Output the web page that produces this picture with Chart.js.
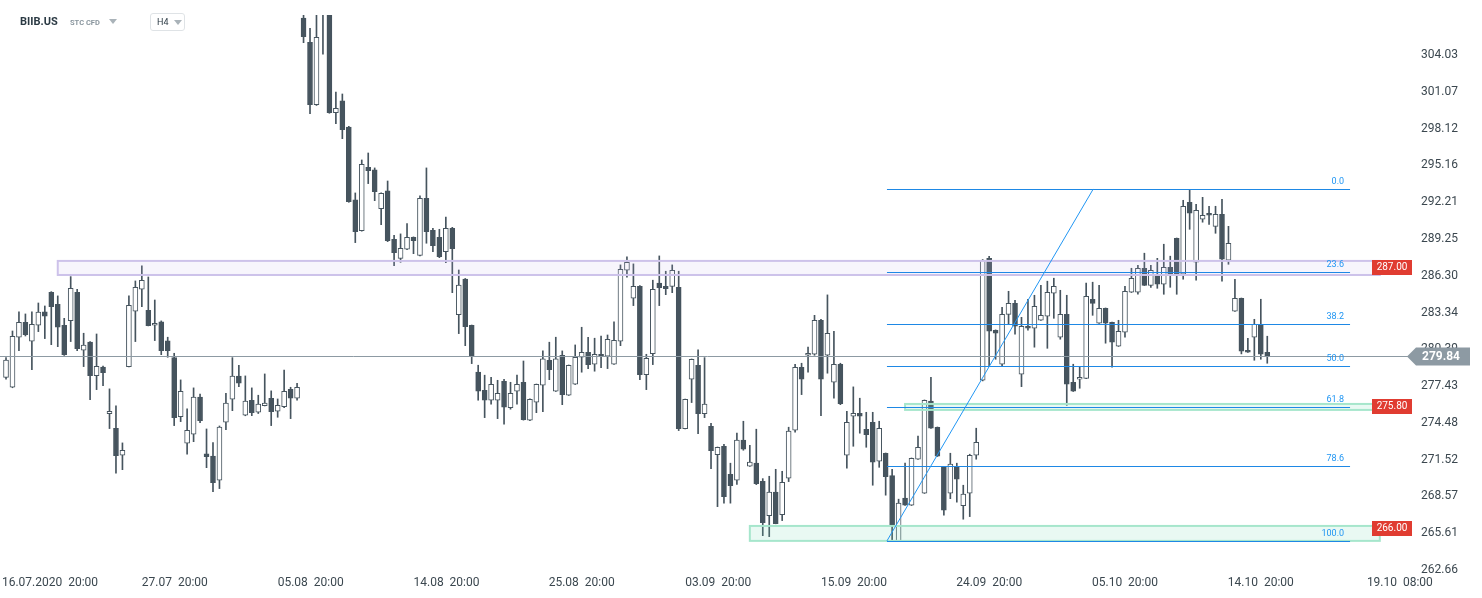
<!DOCTYPE html>
<html><head><meta charset="utf-8">
<script src="https://cdn.jsdelivr.net/npm/chart.js@4.4.1/dist/chart.umd.min.js"></script>
<style>
html,body{margin:0;padding:0;background:#fff;overflow:hidden;}
#wrap{position:relative;width:1482px;height:598px;}
canvas{position:absolute;left:0;top:0;}
.hdr{position:absolute;font-family:Roboto,"Noto Sans",sans-serif;}
</style></head><body>
<div id="wrap">
<canvas id="c" width="1482" height="598"></canvas>
<div class="hdr" style="left:20px;top:15px;font-size:11px;font-weight:bold;color:#2b3a44;">BIIB.US</div>
<div class="hdr" style="left:70px;top:18px;font-size:7.5px;font-weight:bold;color:#8a969e;">STC CFD</div>
<div class="hdr" style="left:109px;top:19px;width:0;height:0;border-left:4px solid transparent;border-right:4px solid transparent;border-top:5px solid #aab3b9;"></div>
<div class="hdr" style="left:150px;top:13px;width:35px;height:18px;border:1px solid #dfe3e6;border-radius:3px;box-sizing:border-box;font-size:9px;color:#2b3a44;line-height:16px;padding-left:6px;">H4<span style="position:absolute;left:23px;top:6px;width:0;height:0;border-left:4px solid transparent;border-right:4px solid transparent;border-top:5px solid #aab3b9;"></span></div>
</div>
<script>
// ---- data (BIIB.US H4) ----
const opens = [
278.14,277.34,281.36,282.56,281.04,282.32,283.39,284.97,284.01,282.32,
282.69,284.97,280.31,280.96,278.27,278.97,275.22,274.05,271.88,279.00,
283.45,285.21,283.53,282.32,282.59,281.06,279.72,274.98,272.84,273.57,
276.56,271.99,271.82,269.87,274.53,276.38,278.23,275.09,276.30,275.33,
275.86,276.46,275.41,275.78,277.18,276.46,307.00,305.05,300.04,308.00,
307.50,299.40,300.34,298.25,292.39,289.92,295.01,294.80,291.69,293.11,
289.23,287.70,288.43,289.39,287.94,292.52,289.95,289.39,288.23,290.11,
283.17,286.04,282.32,278.55,277.10,276.30,276.30,277.82,275.70,277.02,
277.74,274.69,276.14,277.50,279.51,277.02,279.91,276.70,277.58,279.75,
280.15,279.19,279.99,279.83,279.19,281.04,286.74,284.49,285.45,278.35,
280.04,285.70,285.45,285.45,285.37,274.02,277.98,279.11,275.22,274.21,
271.93,272.60,270.35,269.87,273.09,271.00,271.24,269.79,267.03,268.91,
267.11,270.03,273.89,278.95,279.91,279.99,282.72,279.91,277.74,279.19,
271.88,275.01,275.25,273.97,274.53,271.40,272.04,270.24,265.00,268.43,
267.86,271.56,268.83,276.22,274.13,270.92,268.83,270.92,267.83,268.83,
271.88,277.90,287.70,281.92,279.19,283.20,284.08,278.39,282.24,282.08,
282.72,283.05,284.89,281.36,283.20,277.74,277.98,278.06,284.41,282.48,
283.69,282.56,280.64,281.76,284.97,284.97,286.90,285.53,286.42,285.62,
286.98,289.31,286.42,292.20,287.38,290.84,291.32,290.27,291.24,287.54,
283.45,284.49,280.31,281.36,282.40,280.15];
const highs = [
279.72,281.86,283.39,283.23,283.39,284.11,283.87,285.02,284.68,282.88,
286.23,285.21,281.68,281.00,281.62,279.05,277.21,275.84,272.87,284.68,
285.88,287.09,286.20,284.35,282.67,281.36,280.07,277.93,275.60,277.29,
276.80,273.99,272.89,274.23,276.86,279.72,279.11,278.25,277.29,276.70,
278.41,277.05,276.40,278.73,277.34,277.66,307.80,306.18,307.60,308.30,
307.80,301.06,300.90,298.30,292.95,295.60,296.16,294.96,292.95,293.91,
289.55,289.66,290.48,289.42,292.71,294.96,290.11,290.03,291.02,290.19,
286.76,286.08,282.34,279.11,278.31,278.14,277.90,277.98,277.74,278.31,
279.45,276.42,277.60,280.26,280.96,281.36,280.26,279.13,280.74,282.16,
281.36,281.28,281.46,281.54,282.59,287.17,287.81,287.25,285.50,279.99,
285.94,287.89,286.66,287.17,286.66,276.40,279.61,280.34,279.72,274.45,
272.54,272.76,271.24,273.65,274.61,272.68,273.97,270.00,270.19,270.75,
270.59,274.13,279.19,279.27,280.56,283.12,282.80,284.76,281.84,279.27,
275.41,277.37,276.46,275.33,275.33,274.61,272.06,270.75,268.35,271.24,
271.66,273.41,276.32,278.14,274.15,270.94,272.04,271.24,269.47,271.96,
274.05,287.60,287.85,281.95,283.77,285.05,284.33,282.96,284.41,284.73,
285.53,285.86,286.10,285.13,284.73,279.19,278.95,285.70,285.78,285.53,
283.71,282.58,282.72,285.45,286.90,287.14,288.11,287.14,287.70,288.83,
287.87,289.33,292.36,293.19,292.04,292.60,291.88,291.88,292.44,290.27,
286.02,284.51,281.28,282.80,284.41,281.44];
const lows = [
277.98,277.30,280.28,281.46,278.76,281.81,281.25,280.76,280.60,279.90,
281.01,280.28,279.00,276.35,277.15,277.47,274.02,270.44,270.72,278.97,
281.01,283.82,282.27,281.09,279.96,279.75,274.26,274.58,271.96,272.97,
274.50,270.88,268.96,269.20,273.94,275.46,277.39,275.05,275.06,275.23,
275.84,274.26,274.93,275.70,274.82,276.30,305.02,299.32,299.98,304.09,
299.35,298.51,297.31,292.20,288.96,289.88,293.70,292.33,290.40,289.04,
287.11,287.38,288.40,288.07,287.90,288.91,288.23,287.75,287.35,284.94,
281.65,280.68,279.24,276.30,274.90,275.98,274.82,274.37,275.58,275.98,
274.70,274.66,275.30,275.38,277.95,277.00,275.94,276.68,277.56,278.55,
278.84,278.63,278.92,278.84,279.17,280.68,286.18,283.90,277.95,277.15,
279.16,283.90,284.78,284.94,273.86,274.00,276.11,273.62,274.90,270.80,
267.75,268.03,268.03,269.54,272.28,270.98,269.52,265.42,265.34,266.37,
266.63,269.76,273.73,276.75,278.55,279.91,275.06,278.47,276.46,275.94,
270.84,272.60,273.65,272.52,269.47,270.91,268.67,264.95,264.95,267.84,
267.84,271.54,268.81,274.03,271.78,267.06,268.39,268.11,266.74,266.95,
271.56,277.85,279.06,279.59,279.03,282.40,281.60,277.39,281.92,280.56,
282.70,280.47,282.88,281.20,275.89,277.00,277.26,278.04,283.12,282.46,
280.88,278.95,280.62,281.36,284.95,284.81,285.51,285.37,285.29,284.81,
285.37,284.81,286.02,290.03,285.94,290.60,290.43,289.71,285.86,287.22,
283.43,280.02,280.13,279.51,279.59,279.27];
const closes = [
279.53,281.44,282.56,281.57,282.40,283.37,283.05,283.82,282.16,279.96,
285.29,280.44,280.72,278.27,279.03,278.52,275.41,271.85,272.28,283.93,
285.37,285.94,282.29,282.48,280.28,280.28,274.90,277.02,273.89,276.56,
274.66,271.77,269.68,274.15,276.06,278.23,277.66,276.22,275.30,275.98,
276.06,275.38,275.89,277.02,276.46,277.34,305.50,300.04,305.45,307.40,
299.40,299.75,298.03,292.25,289.84,295.25,294.74,293.05,292.92,289.12,
288.15,288.51,289.39,289.12,292.52,289.84,288.72,287.83,290.11,288.47,
285.54,282.21,279.88,277.02,276.30,277.58,276.86,275.74,276.86,277.58,
274.74,276.38,277.58,279.62,278.76,279.62,276.75,279.11,279.75,280.15,
279.16,279.99,279.80,281.20,281.12,286.82,287.38,285.45,278.35,279.67,
285.21,285.34,285.26,286.74,274.02,276.38,279.59,275.22,275.98,272.25,
272.52,268.56,269.44,273.09,272.36,271.32,269.60,266.47,268.91,266.39,
269.71,273.81,278.95,277.98,280.07,282.72,277.98,281.68,279.19,276.03,
274.53,275.25,275.01,273.54,271.32,274.05,270.16,266.23,268.03,267.86,
271.64,272.52,276.30,274.05,271.80,267.46,271.16,269.95,268.75,271.88,
272.92,287.54,281.84,281.68,283.20,284.08,282.24,282.24,282.08,283.85,
283.12,284.97,285.45,283.20,277.58,277.02,278.14,284.65,284.08,283.69,
282.48,280.96,281.84,285.05,286.10,286.90,285.53,286.74,285.62,286.98,
286.42,286.42,291.88,291.32,291.56,291.16,291.16,291.24,287.62,288.91,
284.49,280.23,280.15,282.40,279.99,279.84];

const xTickPos    = [6.8, 26.1, 47.1, 68.1, 89.0, 110.1, 131.1, 152.0, 173.0, 194.0, 215.5];
const xTickLabels = ['16.07.2020  20:00','27.07  20:00','05.08  20:00','14.08  20:00','25.08  20:00',
                     '03.09  20:00','15.09  20:00','24.09  20:00','05.10  20:00','14.10  20:00','19.10  08:00'];
const yTicks = [262.66,265.61,268.57,271.52,274.48,277.43,280.39,283.34,286.30,289.25,292.21,295.16,298.12,301.07,304.03];

const lastPrice = 279.84;
// fibonacci retracement tool
const fibLevels = [293.27, 286.60, 282.43, 279.05, 275.76, 271.02, 265.00];
const fibNames  = ['0.0','23.6','38.2','50.0','61.8','78.6','100.0'];
const fibStartIdx = 136.2, fibEndIdx = 207.8;
const trendFrom = [136.2, 265.00], trendTo = [168.1, 293.27];
// support / resistance zones
const zoneLow   = [286.36, 275.52, 265.00];
const zoneHigh  = [287.49, 276.00, 266.20];
const zoneStart = [8.0, 139.0, 115.0];
const zoneEnd   = 212.4;
const zoneLabel = ['287.00','275.80','266.00'];
const zoneLabelVal = [287.00, 275.80, 266.00];

// ---- chart ----
const DARK = '#46545e';
const idx = opens.map((_, i) => i);
const wickData = idx.map(i => ({x: i, y: [lows[i], highs[i]]}));
const bodyData = idx.map(i => ({x: i, y: [Math.min(opens[i], closes[i]), Math.max(opens[i], closes[i])]}));
const isUp = i => closes[i] >= opens[i];
const CLIP = {left: 0, top: -15, right: 0, bottom: 0};

const overlay = {
  id: 'overlay',
  afterDatasetsDraw(chart) {
    const {ctx, chartArea: a, scales: {x, y}} = chart;
    ctx.save();
    // zones
    const zFill = ['rgba(190,175,235,0.13)', 'rgba(120,220,180,0.16)', 'rgba(120,220,180,0.16)'];
    const zStroke = ['#cdc2ea', '#a6e6cc', '#a6e6cc'];
    for (let k = 0; k < zoneLow.length; k++) {
      const x1 = x.getPixelForValue(zoneStart[k]), x2 = x.getPixelForValue(zoneEnd);
      const y1 = y.getPixelForValue(zoneHigh[k]), y2 = y.getPixelForValue(zoneLow[k]);
      ctx.fillStyle = zFill[k];
      ctx.fillRect(x1, y1, x2 - x1, y2 - y1);
      ctx.strokeStyle = zStroke[k];
      ctx.lineWidth = 2;
      ctx.strokeRect(x1, y1, x2 - x1, y2 - y1);
    }
    // last price line
    const yp = Math.round(y.getPixelForValue(lastPrice)) + 0.5;
    ctx.strokeStyle = '#8d9aa3';
    ctx.lineWidth = 1;
    ctx.beginPath(); ctx.moveTo(a.left, yp); ctx.lineTo(a.right, yp); ctx.stroke();
    // fib lines
    const fx1 = x.getPixelForValue(fibStartIdx), fx2 = x.getPixelForValue(fibEndIdx);
    ctx.strokeStyle = '#1e88e5';
    ctx.fillStyle = '#2196f3';
    ctx.font = '9px Roboto, sans-serif';
    ctx.textAlign = 'right';
    ctx.textBaseline = 'bottom';
    fibLevels.forEach((v, k) => {
      const yy = Math.round(y.getPixelForValue(v)) + 0.5;
      ctx.beginPath(); ctx.moveTo(fx1, yy); ctx.lineTo(fx2, yy); ctx.stroke();
      ctx.fillText(fibNames[k], fx2 - 6, yy - 3);
    });
    // trend line
    ctx.strokeStyle = '#2196f3';
    ctx.beginPath();
    ctx.moveTo(x.getPixelForValue(trendFrom[0]), y.getPixelForValue(trendFrom[1]));
    ctx.lineTo(x.getPixelForValue(trendTo[0]), y.getPixelForValue(trendTo[1]));
    ctx.stroke();
    ctx.restore();
  },
  afterDraw(chart) {
    const {ctx, chartArea: a, scales: {x, y}} = chart;
    ctx.save();
    ctx.font = '10px Roboto, sans-serif';
    ctx.textAlign = 'center';
    ctx.textBaseline = 'middle';
    zoneLabelVal.forEach((v, k) => {
      const yy = Math.round(y.getPixelForValue(v));
      const xr = a.right - 3;
      ctx.fillStyle = '#e03c31';
      ctx.fillRect(xr - 40, yy - 7, 40, 15);
      ctx.fillStyle = '#fff';
      ctx.fillText(zoneLabel[k], xr - 20, yy + 0.5);
    });
    // last price tag
    const yp = Math.round(y.getPixelForValue(lastPrice)) + 0.5;
    const x0 = a.right - 8;
    ctx.fillStyle = '#8d9aa3';
    ctx.beginPath();
    ctx.moveTo(x0, yp);
    ctx.lineTo(x0 + 9, yp - 9);
    ctx.lineTo(x0 + 63, yp - 9);
    ctx.lineTo(x0 + 63, yp + 9);
    ctx.lineTo(x0 + 9, yp + 9);
    ctx.closePath();
    ctx.fill();
    ctx.fillStyle = '#fff';
    ctx.font = 'bold 12px Roboto, sans-serif';
    ctx.textAlign = 'left';
    ctx.fillText(lastPrice.toFixed(2), x0 + 15, yp + 0.5);
    ctx.restore();
  }
};

new Chart(document.getElementById('c'), {
  type: 'bar',
  data: {
    datasets: [
      {
        label: 'body', data: bodyData, order: 0, clip: CLIP,
        barThickness: 5, minBarLength: 1,
        backgroundColor: c => isUp(c.dataIndex) ? '#ffffff' : DARK,
        borderColor: DARK, borderWidth: 1, borderSkipped: false
      },
      {
        label: 'wick', data: wickData, order: 1, clip: CLIP,
        barThickness: 1, backgroundColor: DARK, borderWidth: 0
      }
    ]
  },
  options: {
    responsive: false, animation: false, devicePixelRatio: 1,
    layout: {padding: 0, autoPadding: false},
    datasets: {bar: {grouped: false}},
    plugins: {legend: {display: false}, tooltip: {enabled: false}},
    scales: {
      x: {
        type: 'linear', min: -0.93, max: 217.84, offset: false,
        grid: {display: false, drawTicks: false}, border: {display: false},
        afterBuildTicks: s => { s.ticks = xTickPos.map(v => ({value: v})); },
        afterFit: s => { s.height = 28; s.paddingLeft = 0; s.paddingRight = 0; s.paddingTop = 0; s.paddingBottom = 0; },
        ticks: {
          autoSkip: false, maxRotation: 0, padding: 6, color: '#3b474f',
          font: {family: 'Roboto', size: 12},
          callback: (v, i) => xTickLabels[i]
        }
      },
      y: {
        position: 'right', min: 262.66, max: 308.45,
        grid: {display: false, drawTicks: false}, border: {display: false},
        afterBuildTicks: s => { s.ticks = yTicks.map(v => ({value: v})); },
        afterFit: s => { s.width = 67; s.paddingTop = 0; s.paddingBottom = 0; s.paddingLeft = 0; s.paddingRight = 0; },
        ticks: {
          padding: 6, color: '#3b474f', font: {family: 'Roboto', size: 12},
          callback: v => v.toFixed(2)
        }
      }
    }
  },
  plugins: [overlay]
});
</script>
</body></html>
